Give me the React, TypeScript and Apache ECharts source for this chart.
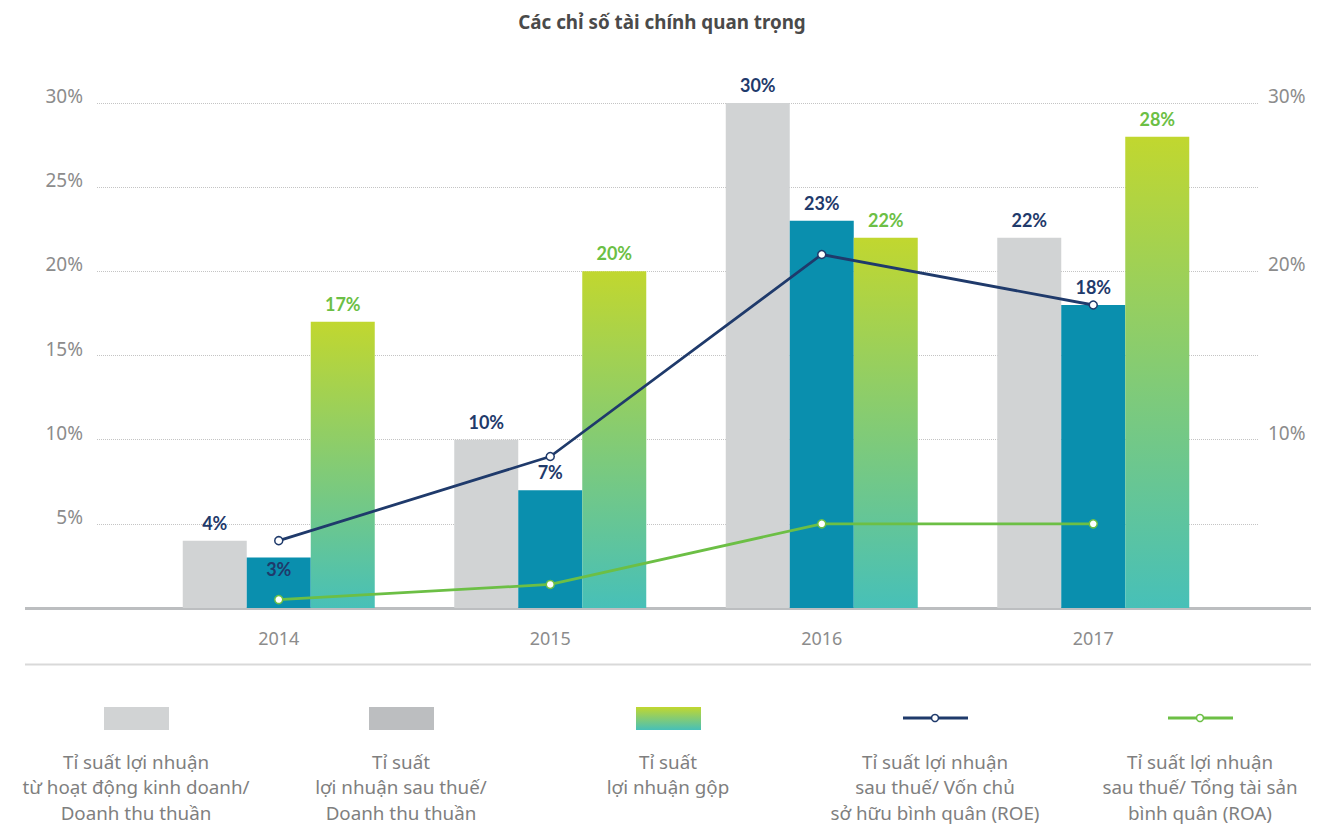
import React, { useEffect, useRef } from "react";
import * as echarts from "echarts";

const years = ["2014", "2015", "2016", "2017"];
const operatingMargin = [4, 10, 30, 22];
const netMargin = [3, 7, 23, 18];
const grossMargin = [17, 20, 22, 28];
const roe = [4, 9, 21, 18];
const roa = [0.5, 1.4, 5, 5];
const axisMin = 0;
const axisMax = 30;
const leftInterval = 5;
const rightInterval = 10;
const titleText = "Các chỉ số tài chính quan trọng";
const legendLabels = [
  "Tỉ suất lợi nhuận\ntừ hoạt động kinh doanh/\nDoanh thu thuần",
  "Tỉ suất\nlợi nhuận sau thuế/\nDoanh thu thuần",
  "Tỉ suất\nlợi nhuận gộp",
  "Tỉ suất lợi nhuận\nsau thuế/ Vốn chủ\nsở hữu bình quân (ROE)",
  "Tỉ suất lợi nhuận\nsau thuế/ Tổng tài sản\nbình quân (ROA)",
];

const C_GRAY = "#d1d3d4";
const C_GRAY2 = "#bcbec0";
const C_TEAL = "#0a8fae";
const C_NAVY = "#1f3a6b";
const C_GREEN = "#6cbf45";
const C_AXIS = "#8c8c8c";
const FONT = "'Noto Sans', 'Open Sans', sans-serif";
const LABEL_FONT = "Lato, 'Noto Sans', sans-serif";

const greenGrad = () =>
  new echarts.graphic.LinearGradient(0, 0, 0, 1, [
    { offset: 0, color: "#c1d72f" },
    { offset: 1, color: "#47c0b8" },
  ]);

export default function App() {
  const ref = useRef<HTMLDivElement>(null);
  useEffect(() => {
    document.body.style.margin = "0";
    if (!ref.current) return;
    const chart = echarts.init(ref.current, null, { renderer: "svg" });

    const barLabel = (color: string) => ({
      show: true,
      position: "top",
      distance: 9,
      formatter: "{c}%",
      color,
      fontFamily: LABEL_FONT,
      fontWeight: "bold",
      fontSize: 18,
    });

    const legendCenters = [136, 401, 668, 935, 1200];
    const legendGraphics: any[] = [];
    legendCenters.forEach((cx, i) => {
      if (i < 3) {
        legendGraphics.push({
          type: "rect",
          shape: { x: cx - 32, y: 707, width: 65, height: 23 },
          style: { fill: i === 0 ? C_GRAY : i === 1 ? C_GRAY2 : greenGrad() },
        });
      } else {
        const col = i === 3 ? C_NAVY : C_GREEN;
        legendGraphics.push({
          type: "line",
          shape: { x1: cx - 32, y1: 718, x2: cx + 33, y2: 718 },
          style: { stroke: col, lineWidth: 3 },
        });
        legendGraphics.push({
          type: "circle",
          shape: { cx, cy: 718, r: 3.5 },
          style: { fill: "#fff", stroke: col, lineWidth: 1.5 },
        });
      }
      legendGraphics.push({
        type: "text",
        x: cx,
        y: 749,
        style: {
          text: legendLabels[i],
          textAlign: "center",
          textVerticalAlign: "top",
          fill: "#7f7f7f",
          font: `18.8px ${FONT}`,
          lineHeight: 25.5,
        },
      });
    });

    const option: any = {
      animation: false,
      backgroundColor: "#ffffff",
      grid: [
        { left: 97, width: 1161, top: 103, height: 505 },
        { left: 143, width: 1086, top: 103, height: 505 },
      ],
      xAxis: [
        { gridIndex: 0, type: "value", min: 0, max: 1, show: false },
        {
          gridIndex: 1,
          type: "category",
          data: years,
          axisLine: { show: false },
          axisTick: { show: false },
          axisLabel: {
            color: C_AXIS,
            fontFamily: FONT,
            fontSize: 18,
            margin: 21,
          },
        },
      ],
      yAxis: [
        {
          gridIndex: 0,
          type: "value",
          min: axisMin,
          max: axisMax,
          interval: leftInterval,
          position: "left",
          axisLine: { show: false },
          axisTick: { show: false },
          axisLabel: {
            formatter: (v: number) => (v === 0 ? "" : v + "%"),
            color: C_AXIS,
            fontFamily: FONT,
            fontSize: 19,
            margin: 14,
            verticalAlign: "bottom",
            lineHeight: 14,
          },
          splitLine: {
            lineStyle: { type: "dotted", color: "#c4c4c4", width: 1 },
          },
        },
        {
          gridIndex: 0,
          type: "value",
          min: axisMin,
          max: axisMax,
          interval: rightInterval,
          position: "right",
          axisLine: { show: false },
          axisTick: { show: false },
          splitLine: { show: false },
          axisLabel: {
            formatter: (v: number) => (v === 0 ? "" : v + "%"),
            color: C_AXIS,
            fontFamily: FONT,
            fontSize: 19,
            margin: 10,
            verticalAlign: "bottom",
            lineHeight: 14,
          },
        },
        { gridIndex: 1, type: "value", min: axisMin, max: axisMax, show: false },
      ],
      series: [
        {
          name: "op",
          type: "bar",
          xAxisIndex: 1,
          yAxisIndex: 2,
          barWidth: 64,
          barGap: "0%",
          data: operatingMargin,
          itemStyle: { color: C_GRAY },
          label: barLabel(C_NAVY),
        },
        {
          name: "net",
          type: "bar",
          xAxisIndex: 1,
          yAxisIndex: 2,
          barWidth: 64,
          barGap: "0%",
          data: netMargin.map((v, i) =>
            i === 0 ? { value: v, label: { position: "insideTop", distance: 2 } } : v
          ),
          itemStyle: { color: C_TEAL },
          label: barLabel(C_NAVY),
        },
        {
          name: "gross",
          type: "bar",
          xAxisIndex: 1,
          yAxisIndex: 2,
          barWidth: 64,
          barGap: "0%",
          data: grossMargin,
          itemStyle: { color: greenGrad() },
          label: barLabel(C_GREEN),
        },
        {
          name: "ROE",
          type: "line",
          xAxisIndex: 1,
          yAxisIndex: 2,
          data: roe,
          z: 5,
          symbol: "circle",
          symbolSize: 8,
          lineStyle: { color: C_NAVY, width: 2.8 },
          itemStyle: { color: "#fff", borderColor: C_NAVY, borderWidth: 1.5 },
        },
        {
          name: "ROA",
          type: "line",
          xAxisIndex: 1,
          yAxisIndex: 2,
          data: roa,
          z: 5,
          symbol: "circle",
          symbolSize: 8,
          lineStyle: { color: C_GREEN, width: 2.8 },
          itemStyle: { color: "#fff", borderColor: C_GREEN, borderWidth: 1.5 },
        },
      ],
      graphic: [
        {
          type: "text",
          x: 662,
          y: 22,
          style: {
            text: titleText,
            textAlign: "center",
            textVerticalAlign: "middle",
            fill: "#4a4a4a",
            font: `bold 18.8px ${FONT}`,
          },
        },
        {
          type: "line",
          z: 1,
          shape: { x1: 25, y1: 608.5, x2: 1311, y2: 608.5 },
          style: { stroke: C_GRAY2, lineWidth: 3 },
        },
        {
          type: "line",
          shape: { x1: 25, y1: 664.5, x2: 1311, y2: 664.5 },
          style: { stroke: "#d9d9d9", lineWidth: 2 },
        },
        ...legendGraphics,
      ],
    };
    chart.setOption(option);
    return () => chart.dispose();
  }, []);
  return <div ref={ref} style={{ width: 1335, height: 828 }} />;
}
